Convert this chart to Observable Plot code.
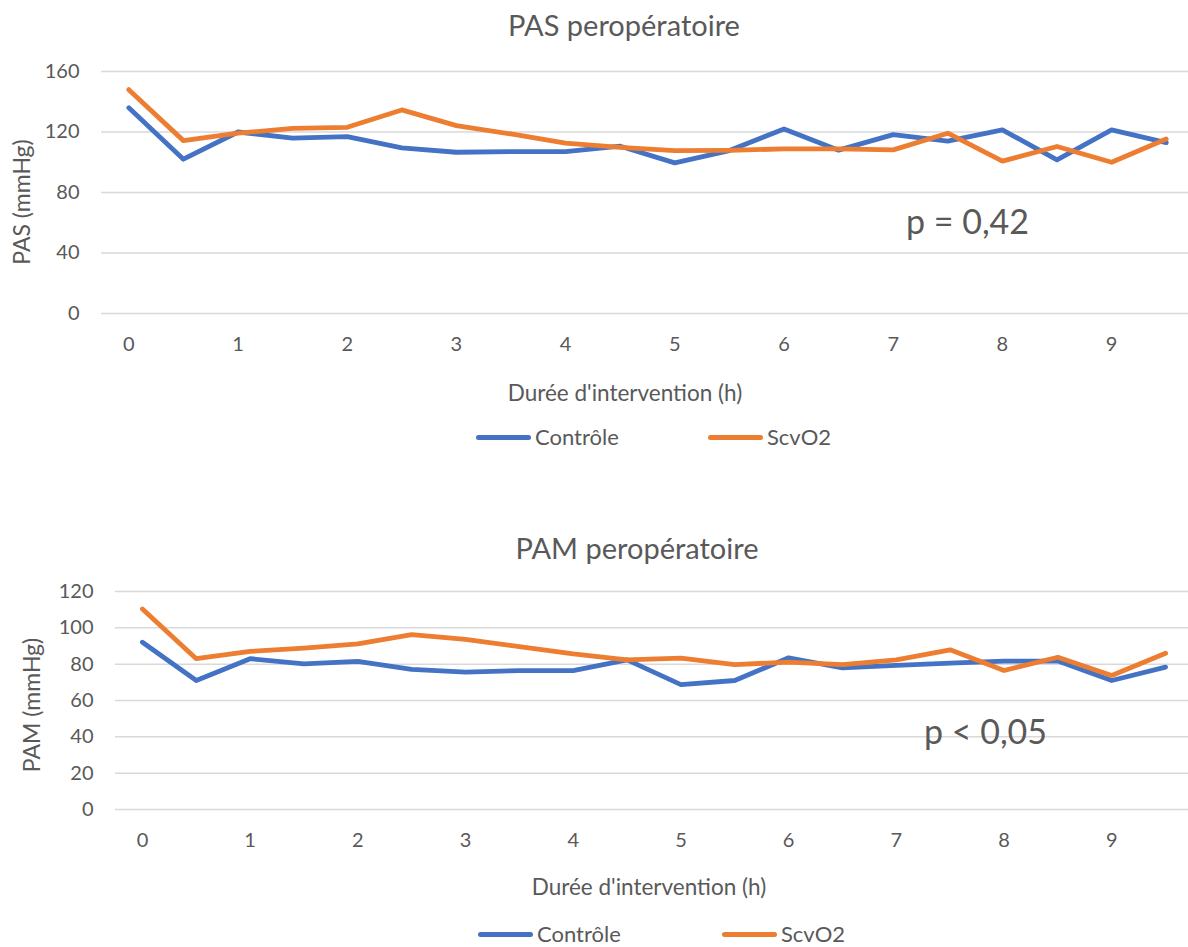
<!DOCTYPE html>
<html>
<head>
<meta charset="utf-8">
<script src="https://cdn.jsdelivr.net/npm/d3@7"></script>
<script src="https://cdn.jsdelivr.net/npm/@observablehq/plot@0.6"></script>
<style>
  body { margin: 0; background: #fff; }
  #wrap { position: relative; width: 1188px; height: 947px; overflow: hidden; font-family: Lato, "Open Sans", sans-serif; color: #595959; }
  #wrap svg { position: absolute; left: 0; }
  .t { position: absolute; white-space: nowrap; color: #595959; }
  .title { font-size: 29px; transform: translateX(-50%); }
  .xt { font-size: 22.5px; transform: translateX(-50%); }
  .yt { font-size: 23px; transform: translate(-50%, -50%) rotate(-90deg); }
  .p { font-size: 34px; }
  .leg { font-size: 22px; line-height: 22px; height: 22px; display: flex; align-items: center; }
  .leg span.sw { display: inline-block; width: 55px; height: 5px; border-radius: 3px; margin-right: 4px; }
</style>
</head>
<body>
<div id="wrap"></div>
<script>
// ---- data ----
const hours = [0, 0.5, 1, 1.5, 2, 2.5, 3, 3.5, 4, 4.5, 5, 5.5, 6, 6.5, 7, 7.5, 8, 8.5, 9, 9.5];
const series = ["Contrôle", "ScvO2"];
const pasControle = [136, 102, 120, 116, 117, 109.5, 106.6, 107, 107, 110.6, 99.6, 107.7, 122, 108, 118.3, 114, 121.4, 101.6, 121.4, 113];
const pasScvO2    = [148, 114.3, 119.2, 122.4, 123.1, 134.6, 124.2, 118.7, 112.6, 109.9, 107.7, 107.9, 108.8, 108.8, 108.2, 119.2, 100.7, 110.4, 100, 115.4];
const pamControle = [92.1, 71, 83, 80.2, 81.5, 77.1, 75.6, 76.5, 76.5, 82.4, 68.7, 71, 83.5, 78, 79.3, 80.6, 81.7, 81.7, 71, 78.4];
const pamScvO2    = [110.4, 83, 87, 88.8, 91.2, 96.3, 93.6, 89.7, 85.7, 82.4, 83.3, 79.8, 81.1, 79.8, 82.4, 87.9, 76.5, 83.8, 73.8, 86];
const xTicks = [0, 1, 2, 3, 4, 5, 6, 7, 8, 9];
const pasTicks = [0, 40, 80, 120, 160];
const pamTicks = [0, 20, 40, 60, 80, 100, 120];
const colors = ["#4472C4", "#ED7D31"];

function long(a, b) {
  const out = [];
  hours.forEach((h, i) => out.push({h, v: a[i], s: series[0]}));
  hours.forEach((h, i) => out.push({h, v: b[i], s: series[1]}));
  return out;
}

function chart({data, yTicks, yMax, xRange, height, mt, mb}) {
  return Plot.plot({
    width: 1188,
    height,
    marginTop: mt,
    marginBottom: mb,
    marginLeft: xRange[0],
    marginRight: 1188 - xRange[1],
    style: {fontFamily: "Lato, 'Open Sans', sans-serif", fontSize: "20px", color: "#595959", background: "transparent", overflow: "visible"},
    x: {domain: [-0.25, 9.75], range: xRange},
    y: {domain: [0, yMax]},
    color: {domain: series, range: colors},
    marks: [
      Plot.ruleY(yTicks, {x1: -0.25, x2: 9.75, stroke: "#d9d9d9", strokeWidth: 1.5}),
      Plot.axisX(xTicks, {tickSize: 0, tickPadding: 23, label: null, fill: "#595959", fontSize: 20}),
      Plot.axisY(yTicks, {tickSize: 0, tickPadding: 22, label: null, fill: "#595959", fontSize: 20}),
      Plot.line(data, {x: "h", y: "v", z: "s", stroke: "s", strokeWidth: 4.8, strokeLinecap: "round", strokeLinejoin: "round"})
    ]
  });
}

const wrap = document.getElementById("wrap");

const top1 = chart({data: long(pasControle, pasScvO2), yTicks: pasTicks, yMax: 160, xRange: [101, 1193], height: 370, mt: 71, mb: 57});
top1.style.top = "0px";
wrap.appendChild(top1);

const bot = chart({data: long(pamControle, pamScvO2), yTicks: pamTicks, yMax: 120, xRange: [115, 1192], height: 320, mt: 51, mb: 51});
bot.style.top = "540px";
wrap.appendChild(bot);

function addText(cls, text, css) {
  const d = document.createElement("div");
  d.className = "t " + cls;
  d.textContent = text;
  Object.assign(d.style, css);
  wrap.appendChild(d);
  return d;
}
function addLegend(y, x1, x2) {
  series.forEach((s, i) => {
    const d = document.createElement("div");
    d.className = "t leg";
    d.style.left = (i === 0 ? x1 : x2) + "px";
    d.style.top = y + "px";
    d.innerHTML = `<span class="sw" style="background:${colors[i]}"></span>${s}`;
    wrap.appendChild(d);
  });
}

addText("title", "PAS peropératoire", {left: "624px", top: "7px"});
addText("yt", "PAS (mmHg)", {left: "21px", top: "202px"});
addText("xt", "Durée d'intervention (h)", {left: "625px", top: "379px"});
addText("p", "p = 0,42", {left: "906px", top: "200px"});
addLegend(426, 476, 708);

addText("title", "PAM peropératoire", {left: "637px", top: "530px"});
addText("yt", "PAM (mmHg)", {left: "31px", top: "705px"});
addText("xt", "Durée d'intervention (h)", {left: "649px", top: "873px"});
addText("p", "p < 0,05", {left: "924px", top: "710px"});
addLegend(923, 478, 722);
</script>
</body>
</html>
